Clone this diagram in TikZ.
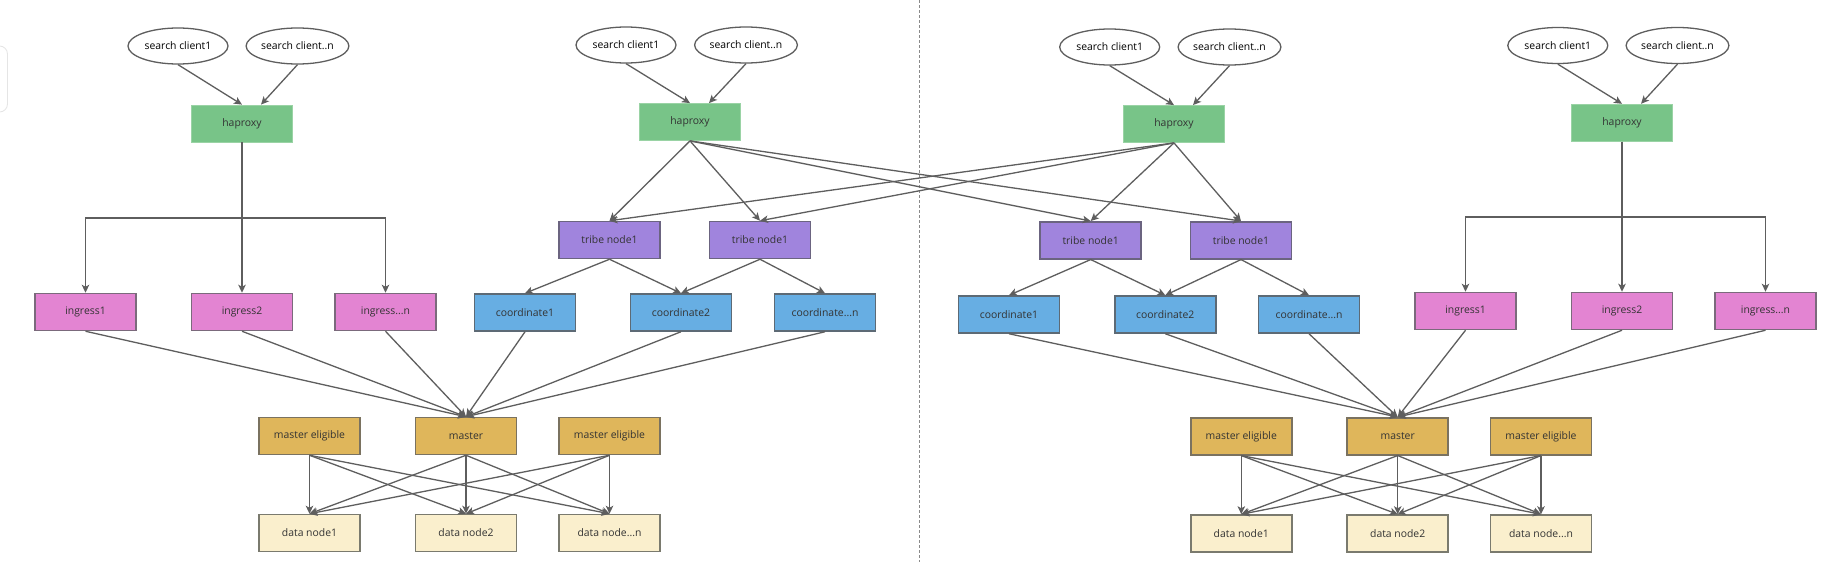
\documentclass[tikz,border=0pt]{standalone}
\usepackage{fontspec}
\setmainfont{Open Sans}
\usetikzlibrary{arrows.meta,shapes.geometric}
\definecolor{txt}{HTML}{333333}
\definecolor{conn}{HTML}{5E5E5E}
\definecolor{hapfill}{HTML}{78C488}
\definecolor{hapdraw}{HTML}{9AD3A5}
\definecolor{ingfill}{HTML}{E384D2}
\definecolor{ingdraw}{HTML}{7B6A7C}
\definecolor{cofill}{HTML}{67AEE3}
\definecolor{codraw}{HTML}{5D6A75}
\definecolor{trfill}{HTML}{A084DD}
\definecolor{trdraw}{HTML}{6B6480}
\definecolor{mafill}{HTML}{DFB65B}
\definecolor{madraw}{HTML}{7A7260}
\definecolor{dafill}{HTML}{FAEFCD}
\definecolor{dadraw}{HTML}{7A7A6E}
\definecolor{divider}{HTML}{8A8A8A}
\begin{document}
\begin{tikzpicture}[x=1pt,y=-1pt,
  font=\fontsize{10.4}{12}\selectfont,
  basebox/.style={rectangle, minimum width=101pt, minimum height=37pt, inner sep=0pt, line width=1.5pt, text=txt},
  hapbox/.style={basebox, fill=hapfill, draw=hapdraw, line width=0.8pt},
  ingbox/.style={basebox, fill=ingfill, draw=ingdraw},
  cobox/.style={basebox, fill=cofill, draw=codraw},
  trbox/.style={basebox, fill=trfill, draw=trdraw},
  mabox/.style={basebox, fill=mafill, draw=madraw},
  dabox/.style={basebox, fill=dafill, draw=dadraw},
  client/.style={ellipse, minimum width=100pt, minimum height=36pt, inner sep=0pt, draw=conn, line width=1.3pt, fill=white, text=black},
  line/.style={draw=conn, line width=1.3pt},
  arr/.style={line, -{Stealth[length=8pt,width=7.5pt,inset=2pt]}}
]
\useasboundingbox (0,0) rectangle (1839,562);
\fill[white] (0,0) rectangle (1839,562);
% UI fragment at left edge
\draw[draw=black!10, line width=0.8pt, rounded corners=8pt] (-30,46) rectangle (7.5,112);
% divider
\draw[draw=divider, line width=1.2pt, dash pattern=on 3pt off 2pt] (919.5,0) -- (919.5,562);

% ---------- left half ----------
\node[client] (sc1a) at (178,46) {search client1};
\node[client] (sc2a) at (297.5,46) {search client..n};
\node[hapbox] (hap1) at (242,123.5) {haproxy};
\node[ingbox] (ing1) at (85.5,312) {ingress1};
\node[ingbox] (ing2) at (242,312) {ingress2};
\node[ingbox] (ing3) at (385.5,312) {ingress...n};

\node[client] (sc1b) at (626,45) {search client1};
\node[client] (sc2b) at (746,45) {search client..n};
\node[hapbox] (hap2) at (690,122) {haproxy};
\node[trbox] (trA) at (609.5,240) {tribe node1};
\node[trbox] (trB) at (760,240) {tribe node1};
\node[cobox] (co1) at (525,312.5) {coordinate1};
\node[cobox] (co2) at (681,312.5) {coordinate2};
\node[cobox] (co3) at (825,312.5) {coordinate...n};

\node[mabox] (me1) at (309.5,436) {master eligible};
\node[mabox] (mas1) at (466,436) {master};
\node[mabox] (me2) at (609.5,436) {master eligible};
\node[dabox] (da1) at (309.5,533) {data node1};
\node[dabox] (da2) at (466,533) {data node2};
\node[dabox] (da3) at (609.5,533) {data node...n};

% ---------- right half ----------
\node[client] (sc1c) at (1109.7,47) {search client1};
\node[client] (sc2c) at (1229.5,47) {search client..n};
\node[hapbox] (hap3) at (1174,124) {haproxy};
\node[trbox] (trC) at (1090.7,240.3) {tribe node1};
\node[trbox] (trD) at (1241,240.3) {tribe node1};
\node[cobox] (co4) at (1009,314.5) {coordinate1};
\node[cobox] (co5) at (1165.3,314.5) {coordinate2};
\node[cobox] (co6) at (1309,314.5) {coordinate...n};

\node[client] (sc1d) at (1557.8,45.5) {search client1};
\node[client] (sc2d) at (1677.5,45.5) {search client..n};
\node[hapbox] (hap4) at (1622,122.7) {haproxy};
\node[ingbox] (ing4) at (1465.5,311) {ingress1};
\node[ingbox] (ing5) at (1622,311) {ingress2};
\node[ingbox] (ing6) at (1765.5,311) {ingress...n};

\node[mabox] (me3) at (1241.3,436.3) {master eligible};
\node[mabox] (mas2) at (1397.7,436.3) {master};
\node[mabox] (me4) at (1541,436.3) {master eligible};
\node[dabox] (da4) at (1241.3,533.5) {data node1};
\node[dabox] (da5) at (1397.7,533.5) {data node2};
\node[dabox] (da6) at (1541,533.5) {data node...n};

% ---------- connectors: clients -> haproxy ----------
\foreach \h/\a/\b in {hap1/sc1a/sc2a, hap2/sc1b/sc2b, hap3/sc1c/sc2c, hap4/sc1d/sc2d}{
  \draw[arr] (\a.south) -- (\h.north);
  \draw[arr] (\b.south) -- ([xshift=19pt]\h.north);
}

% haproxy -> ingress (orthogonal)
\coordinate (j1) at (242,218);
\draw[line] (hap1.south) -- (j1);
\draw[arr] (j1) -| (ing1.north);
\draw[arr] (j1) -| (ing3.north);
\draw[arr] (hap1.south) -- (ing2.north);

\coordinate (j2) at (1622,217);
\draw[line] (hap4.south) -- (j2);
\draw[arr] (j2) -| (ing4.north);
\draw[arr] (j2) -| (ing6.north);
\draw[arr] (hap4.south) -- (ing5.north);

% haproxy -> tribe nodes
\foreach \h in {hap2,hap3}{
  \foreach \t in {trA,trB,trC,trD}{
    \draw[arr] (\h.south) -- (\t.north);
  }
}

% tribe -> coordinate
\draw[arr] (trA.south) -- (co1.north);
\draw[arr] (trA.south) -- (co2.north);
\draw[arr] (trB.south) -- (co2.north);
\draw[arr] (trB.south) -- (co3.north);
\draw[arr] (trC.south) -- (co4.north);
\draw[arr] (trC.south) -- (co5.north);
\draw[arr] (trD.south) -- (co5.north);
\draw[arr] (trD.south) -- (co6.north);

% ingress / coordinate -> master
\foreach \s in {ing1,ing2,ing3,co1,co2,co3}{
  \draw[arr] (\s.south) -- (mas1.north);
}
\foreach \s in {co4,co5,co6,ing4,ing5,ing6}{
  \draw[arr] (\s.south) -- (mas2.north);
}

% master row -> data nodes
\foreach \m in {me1,mas1,me2}{
  \foreach \d in {da1,da2,da3}{
    \draw[arr] (\m.south) -- (\d.north);
  }
}
\foreach \m in {me3,mas2,me4}{
  \foreach \d in {da4,da5,da6}{
    \draw[arr] (\m.south) -- (\d.north);
  }
}
\end{tikzpicture}
\end{document}
